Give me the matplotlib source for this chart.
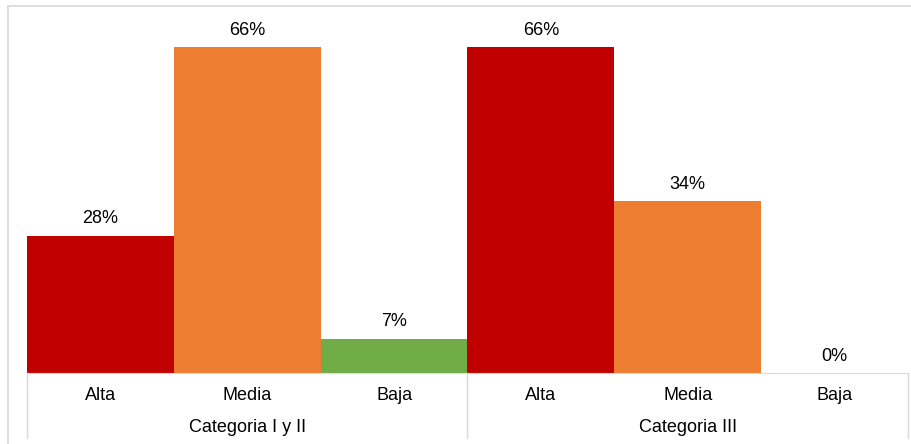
import matplotlib.pyplot as plt
from matplotlib.lines import Line2D

# datos
niveles = ["Alta", "Media", "Baja", "Alta", "Media", "Baja"]
grupos = ["Categoria I y II", "Categoria III"]
valores = [27.6, 65.5, 6.9, 65.5, 34.5, 0.0]
colores = ["#C00000", "#ED7D31", "#70AD47", "#C00000", "#ED7D31", "#70AD47"]

plt.rcParams['font.family'] = ['Liberation Sans', 'DejaVu Sans']

W, H = 912, 444
fig = plt.figure(figsize=(W / 100, H / 100), dpi=100)

# ejes en pixeles
x0, x1, y_base, y_top = 27, 908, 373, 25
ax = fig.add_axes([x0 / W, 1 - y_base / H, (x1 - x0) / W, (y_base - y_top) / H])
ah = y_base - y_top

pos = list(range(len(valores)))
bars = ax.bar(pos, valores, width=1.0, color=colores, edgecolor='none')
ax.set_xlim(-0.5, len(valores) - 0.5)
ax.set_ylim(0, 70)

for b, v in zip(bars, valores):
    ax.annotate(f"{v:.0f}%", (b.get_x() + b.get_width() / 2, v),
                xytext=(0, 6), textcoords='offset points',
                ha='center', va='bottom', fontsize=13, color='#000000')

for s in ['top', 'right', 'left']:
    ax.spines[s].set_visible(False)
ax.spines['bottom'].set_color('#D9D9D9')
ax.set_yticks([])
ax.set_xticks([])

tr = ax.get_xaxis_transform()
for i, n in enumerate(niveles):
    ax.text(i, -(395 - y_base) / ah, n, transform=tr, ha='center', va='center', fontsize=13)
for g, nombre in enumerate(grupos):
    ax.text(g * 3 + 1, -(427 - y_base) / ah, nombre, transform=tr, ha='center', va='center', fontsize=13)

# separadores del eje de categorias
y_fin = -(438 - y_base) / ah
for xs in [-0.5, 2.5, 5.5]:
    ax.add_line(Line2D([xs, xs], [0, y_fin], transform=tr, color='#D9D9D9', lw=1, clip_on=False))

# marco exterior
fig.add_artist(Line2D([8 / W, 8 / W], [0, 1 - 6 / H], transform=fig.transFigure, color='#D9D9D9', lw=1.2))
fig.add_artist(Line2D([8 / W, 1], [1 - 6 / H, 1 - 6 / H], transform=fig.transFigure, color='#D9D9D9', lw=1.2))

fig.savefig("out.png", dpi=100)
